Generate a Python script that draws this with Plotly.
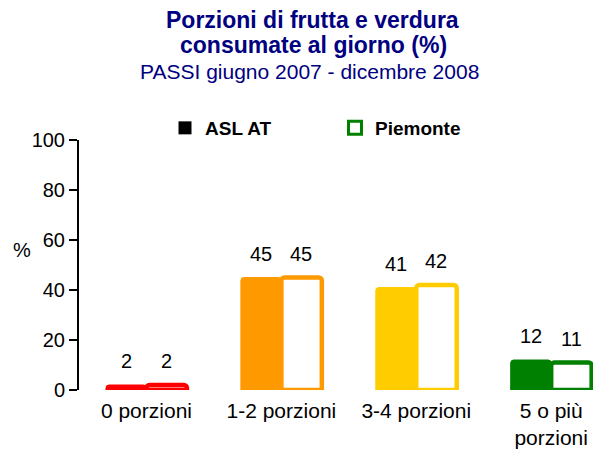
import plotly.graph_objects as go

categories = ["0 porzioni", "1-2 porzioni", "3-4 porzioni", "5 o più<br>porzioni"]
asl_at = [2, 45, 41, 12]
piemonte = [2, 45, 42, 11]
cat_colors = ["#FF0000", "#FF9900", "#FFCC00", "#008000"]
y_ticks = [0, 20, 40, 60, 80, 100]

FONT = "Liberation Sans, Arial, sans-serif"
NAVY = "#000080"

fig = go.Figure()
fig.add_trace(go.Bar(
    x=categories, y=asl_at, name="ASL AT", showlegend=False,
    marker=dict(color=cat_colors, line=dict(color=cat_colors, width=1)),
))
fig.add_trace(go.Bar(
    x=categories, y=piemonte, name="Piemonte", showlegend=False,
    marker=dict(color="white", line=dict(color=cat_colors, width=4.5)),
))
# legend entries
fig.add_trace(go.Scatter(
    x=[None], y=[None], mode="markers", name="ASL AT",
    marker=dict(symbol="square", size=13, color="black"),
))
fig.add_trace(go.Scatter(
    x=[None], y=[None], mode="markers", name="Piemonte",
    marker=dict(symbol="square-open", size=13, color="#008000", line=dict(width=3)),
))

annotations = []
for cat, a, p in zip(categories, asl_at, piemonte):
    for val, shift in ((a, -20), (p, 20)):
        annotations.append(dict(
            x=cat, y=val, xref="x", yref="y", text=str(val), showarrow=False,
            xshift=shift, yshift=24, yanchor="middle",
            font=dict(family=FONT, size=20, color="black"),
        ))

W, H = 597, 457
L, R, T, B = 79, 4, 140, 67
pw, ph = W - L - R, H - T - B

titles = [
    ("<b>Porzioni di frutta e verdura</b>", 312, 20, 23),
    ("<b>consumate al giorno (%)</b>", 313, 45, 23),
    ("PASSI giugno 2007 - dicembre 2008", 309, 71, 21),
]
for text, px, py, size in titles:
    annotations.append(dict(
        text=text, xref="paper", yref="paper",
        x=(px - L) / pw, y=(H - B - py) / ph,
        xanchor="center", yanchor="middle", showarrow=False,
        font=dict(family=FONT, size=size, color=NAVY),
    ))
annotations.append(dict(
    text="%", xref="paper", yref="paper", x=(22 - L) / pw, y=(H - B - 250) / ph,
    xanchor="center", yanchor="middle", showarrow=False,
    font=dict(family=FONT, size=20, color="black"),
))

fig.update_layout(
    width=W, height=H,
    margin=dict(l=L, r=R, t=T, b=B, autoexpand=False),
    paper_bgcolor="white", plot_bgcolor="white",
    barmode="group", bargap=0.4, bargroupgap=0,
    barcornerradius=3,
    font=dict(family=FONT, size=20, color="black"),
    annotations=annotations,
    legend=dict(
        orientation="h", x=(165 - L) / pw, xanchor="left",
        y=(H - B - 128) / ph, yanchor="middle",
        font=dict(family=FONT, size=19, color="black", weight="bold"),
        entrywidth=125, itemwidth=30, bgcolor="rgba(0,0,0,0)",
    ),
    xaxis=dict(
        range=[-0.5, 3.31], showline=False, showgrid=False, zeroline=False,
        ticks="", tickfont=dict(family=FONT, size=21, color="black"),
        ticklabelstandoff=6, automargin=False,
    ),
    yaxis=dict(
        range=[0, 100], tickvals=y_ticks, showgrid=False, zeroline=False,
        showline=True, linecolor="black", linewidth=2,
        ticks="outside", ticklen=8, tickwidth=2, tickcolor="black",
        tickfont=dict(family=FONT, size=20, color="black"), automargin=False,
    ),
)

fig.write_html(
    "out.html",
    config={"displayModeBar": False},
    post_script="document.body.style.margin='0';document.body.style.overflow='hidden';",
)
